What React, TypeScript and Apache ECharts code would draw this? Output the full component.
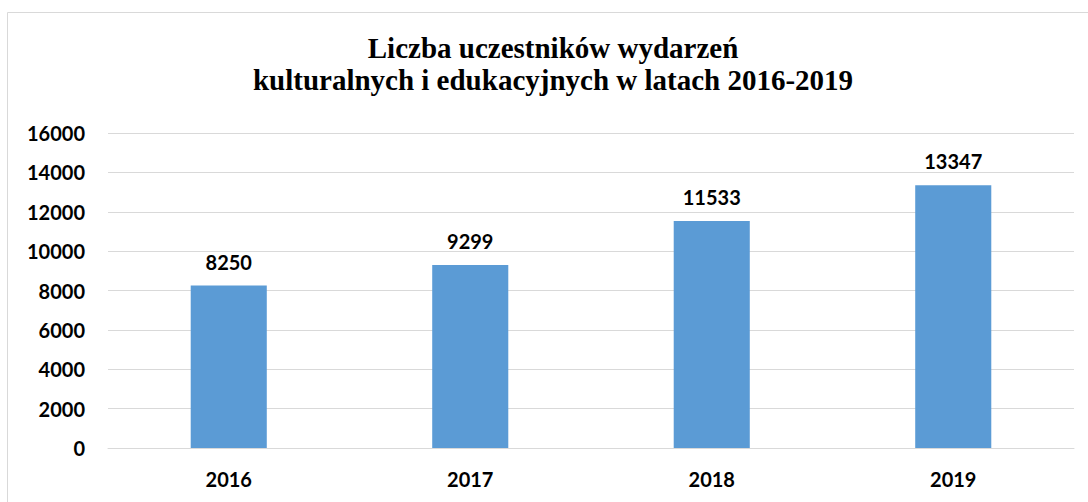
import React, { useEffect, useRef } from "react";
import * as echarts from "echarts";

const titleLines = ["Liczba uczestników wydarzeń", "kulturalnych i edukacyjnych w latach 2016-2019"];
const years = ["2016", "2017", "2018", "2019"];
const participants = [8250, 9299, 11533, 13347];
const yTicks = { min: 0, max: 16000, interval: 2000 };

export default function App() {
  const ref = useRef<HTMLDivElement>(null);
  useEffect(() => {
    if (!ref.current) return;
    const chart = echarts.init(ref.current, undefined, { renderer: "svg" });
    const labelFont = { fontFamily: "Lato", fontWeight: "bold" as const, fontSize: 20, color: "#000" };
    const titleFont = "bold 29px 'Liberation Serif', 'Times New Roman', serif";
    chart.setOption({
      animation: false,
      backgroundColor: "#fff",
      graphic: [
        {
          type: "rect",
          shape: { x: 7.5, y: 12.5, width: 1100, height: 600 },
          style: { fill: "none", stroke: "#d9d9d9", lineWidth: 1 },
          silent: true,
        },
        {
          type: "text",
          x: 553,
          y: 62,
          style: {
            text: titleLines[0],
            font: titleFont,
            fill: "#000",
            textAlign: "center",
            textVerticalAlign: "bottom",
          },
        },
        {
          type: "text",
          x: 553,
          y: 94,
          style: {
            text: titleLines[1],
            font: titleFont,
            fill: "#000",
            textAlign: "center",
            textVerticalAlign: "bottom",
          },
        },
      ],
      grid: { left: 108, right: 14, top: 133, bottom: 54 },
      xAxis: {
        type: "category",
        data: years,
        axisTick: { show: false },
        axisLine: { lineStyle: { color: "#d9d9d9", width: 1 } },
        axisLabel: { ...labelFont, margin: 21 },
      },
      yAxis: {
        type: "value",
        min: yTicks.min,
        max: yTicks.max,
        interval: yTicks.interval,
        axisLine: { show: false },
        axisTick: { show: false },
        splitLine: { lineStyle: { color: "#d9d9d9", width: 1 } },
        axisLabel: { ...labelFont, margin: 23, formatter: (v: number) => String(v) },
      },
      series: [
        {
          type: "bar",
          data: participants,
          barWidth: "31.5%",
          itemStyle: { color: "#5b9bd5" },
          label: { show: true, position: "top", distance: 14, ...labelFont },
        },
      ],
    });
    return () => chart.dispose();
  }, []);
  return <div ref={ref} style={{ position: "fixed", left: 0, top: 0, width: 1088, height: 502 }} />;
}
